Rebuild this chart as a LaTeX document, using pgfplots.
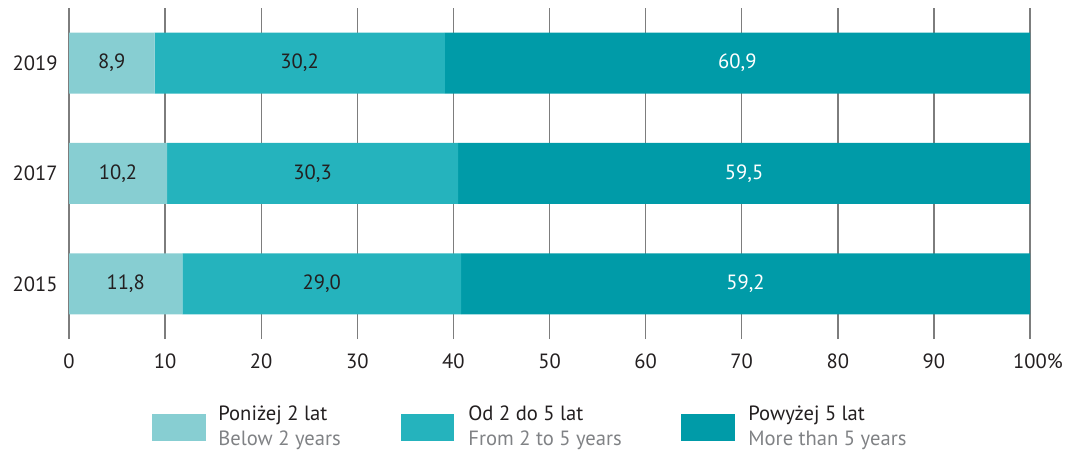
\documentclass[border=0pt]{standalone}
\usepackage{pgfplots}
\pgfplotsset{compat=1.18}
\usepackage{fontspec}
\setmainfont{PT Sans}
\definecolor{cLight}{RGB}{135,206,210}
\definecolor{cMid}{RGB}{37,179,189}
\definecolor{cDark}{RGB}{0,155,168}
\definecolor{txt}{RGB}{35,31,32}
\definecolor{sub}{RGB}{128,130,133}
\definecolor{gridc}{RGB}{125,125,125}
\begin{document}
\begin{tikzpicture}[font=\fontsize{10.3pt}{12.4pt}\selectfont]
\path[use as bounding box] (0,0) rectangle (537.5pt,225pt);
\begin{axis}[
  at={(34.5pt,55.5pt)}, anchor=south west,
  scale only axis, width=480.5pt, height=165.5pt,
  xmin=0, xmax=100, ymin=-0.5, ymax=2.5,
  xbar stacked, bar width=30.5pt,
  axis line style={draw=none},
  xtick={0,10,...,100},
  xticklabels={0,10,20,30,40,50,60,70,80,90,100\rlap{\%}},
  ytick={0,1,2}, yticklabels={2015,2017,2019},
  major tick length=0pt,
  xmajorgrids, grid style={gridc, line width=0.7pt},
  tick label style={font=\fontsize{10.3pt}{12.4pt}\selectfont, text=txt},
  xticklabel style={anchor=north, inner sep=0pt, yshift=-7pt},
  yticklabel style={anchor=east, inner sep=0pt, xshift=-5.5pt},
  /pgf/number format/assume math mode=true,
  nodes near coords,
  point meta=explicit symbolic,
  every node near coord/.append style={anchor=center, inner sep=0pt,
     font=\fontsize{10.3pt}{12.4pt}\selectfont},
  clip=false,
]
\addplot[fill=cLight, draw=none, every node near coord/.append style={text=txt}]
  coordinates {(11.8,0)[11,8] (10.2,1)[10,2] (8.9,2)[8,9]};
\addplot[fill=cMid, draw=none, every node near coord/.append style={text=txt}]
  coordinates {(29.0,0)[29,0] (30.3,1)[30,3] (30.2,2)[30,2]};
\addplot[fill=cDark, draw=none, every node near coord/.append style={text=white}]
  coordinates {(59.2,0)[59,2] (59.5,1)[59,5] (60.9,2)[60,9]};
\end{axis}
\begin{scope}[x=0.5pt, y=-0.5pt, shift={(0pt,225pt)}]
  \fill[cLight] (152,414) rectangle (206,441);
  \node[anchor=base west, inner sep=0pt, text=txt] at (218,420) {Poniżej 2 lat};
  \node[anchor=base west, inner sep=0pt, text=sub] at (218,445) {Below 2 years};
  \fill[cMid] (401,414) rectangle (454,441);
  \node[anchor=base west, inner sep=0pt, text=txt] at (468,420) {Od 2 do 5 lat};
  \node[anchor=base west, inner sep=0pt, text=sub] at (468,445) {From 2 to 5 years};
  \fill[cDark] (681,414) rectangle (735,441);
  \node[anchor=base west, inner sep=0pt, text=txt] at (748,420) {Powyżej 5 lat};
  \node[anchor=base west, inner sep=0pt, text=sub] at (748,445) {More than 5 years};
\end{scope}
\end{tikzpicture}
\end{document}
